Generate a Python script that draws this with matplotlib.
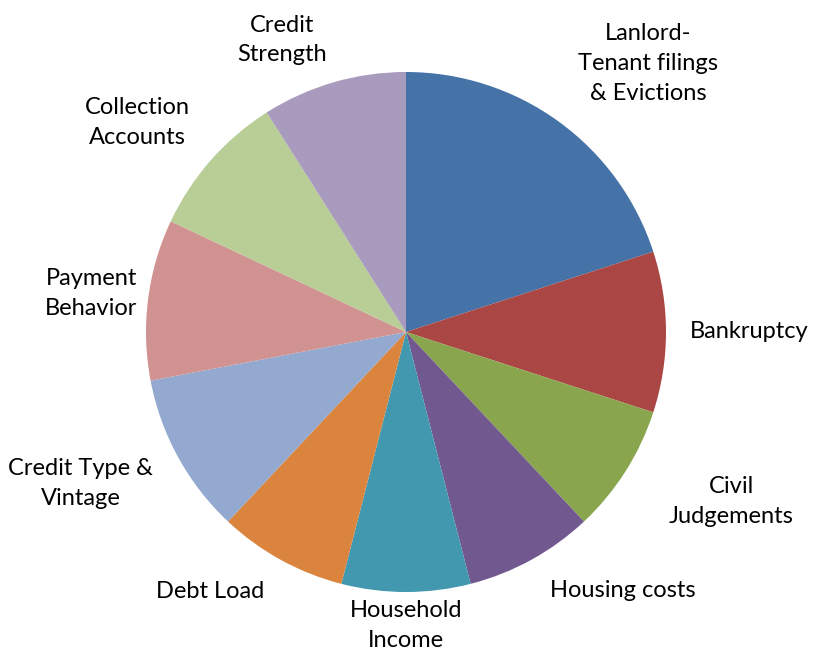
import matplotlib
matplotlib.use("Agg")
import matplotlib.pyplot as plt
import numpy as np

LABELS = [
    "Lanlord-\nTenant filings\n& Evictions",
    "Bankruptcy",
    "Civil\nJudgements",
    "Housing costs",
    "Household\nIncome",
    "Debt Load",
    "Credit Type &\nVintage",
    "Payment\nBehavior",
    "Collection\nAccounts",
    "Credit\nStrength",
]
SHARES = [20, 10, 8, 8, 8, 8, 10, 10, 9, 9]
COLORS = [
    "#4572A7", "#AA4643", "#89A54E", "#71588F", "#4198AF",
    "#DB843D", "#93A9CF", "#D19392", "#B9CD96", "#A99BBD",
]
# label placement (distance from centre in radii, angle in degrees)
LABEL_R = [1.39, 1.32, 1.41, 1.30, 1.13, 1.25, 1.38, 1.22, 1.31, 1.22]
LABEL_ANG = [48, 0, -27.5, -50, -90, -127, -155, 173, 142, 113]

W, H = 814, 654
CX, CY, R = 406, 332, 260

fig = plt.figure(figsize=(W / 100, H / 100), dpi=100)
ax = fig.add_axes([0, 0, 1, 1])
ax.pie(SHARES, colors=COLORS, startangle=90, counterclock=False,
       wedgeprops=dict(linewidth=0))
ax.set_xlim(-CX / R, (W - CX) / R)
ax.set_ylim((CY - H) / R, CY / R)
ax.set_aspect("equal")
ax.axis("off")

for lab, r, a in zip(LABELS, LABEL_R, LABEL_ANG):
    t = np.deg2rad(a)
    ax.text(r * np.cos(t), r * np.sin(t), lab, ha="center", va="center",
            fontsize=17, family="Lato", linespacing=1.52, color="#000000")

fig.savefig("out.png", dpi=100)
